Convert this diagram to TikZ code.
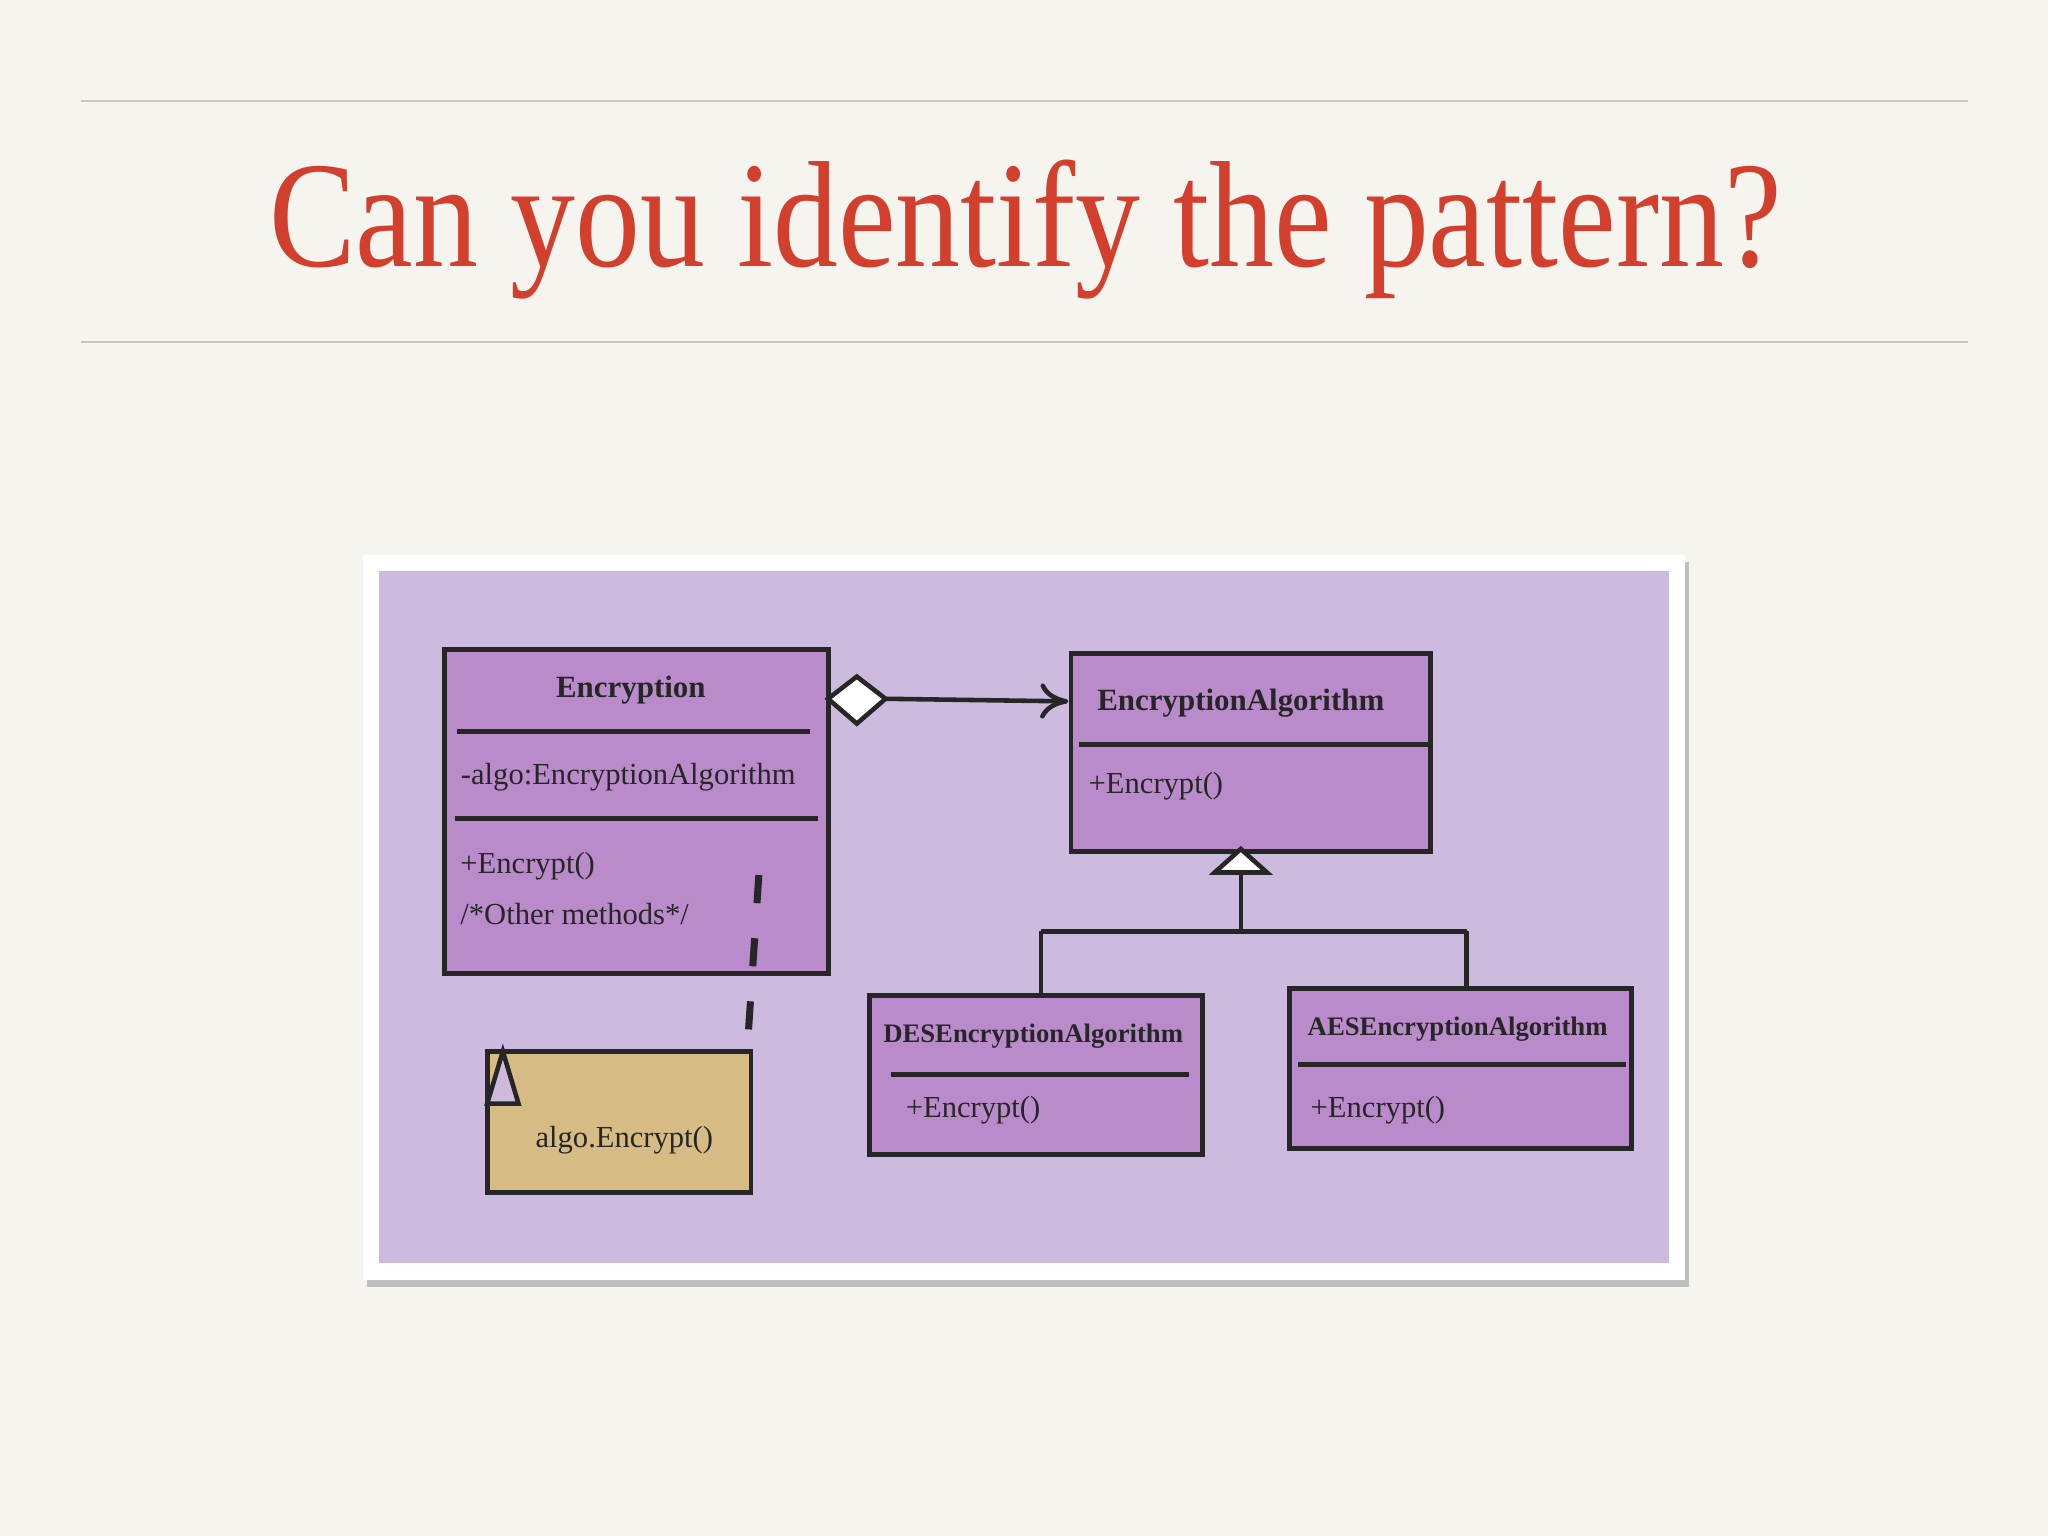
\documentclass[tikz,border=0pt]{standalone}
\usepackage{fontspec}
\usetikzlibrary{arrows.meta}
\newfontfamily\hand{Liberation Serif}
\definecolor{bg}{HTML}{F6F4EE}
\definecolor{titlered}{HTML}{D23F2C}
\definecolor{rulegray}{HTML}{C8C6C0}
\definecolor{lav}{HTML}{CDBBDF}
\definecolor{boxp}{HTML}{B98BCB}
\definecolor{notef}{HTML}{D6BC84}
\tikzset{
  umlbox/.style={draw=black!85, line width=1.4pt, fill=boxp},
  sep/.style={draw=black!85, line width=1.4pt},
  conn/.style={draw=black!85, line width=1.3pt},
  txt/.style={font=\hand\fontsize{8.7}{10}\selectfont, inner sep=0pt, text=black!85},
  txtb/.style={font=\hand\bfseries\fontsize{8.8}{10}\selectfont, inner sep=0pt, text=black!85},
  txts/.style={font=\hand\bfseries\fontsize{7.6}{9}\selectfont, inner sep=0pt, text=black!85}
}
\begin{document}
\begin{tikzpicture}[x=0.01306cm,y=-0.01306cm]
\useasboundingbox (0,0) rectangle (1568,1176);
\fill[bg] (0,0) rectangle (1568,1176);
\draw[rulegray, line width=0.6pt] (62,77) -- (1507,77);
\draw[rulegray, line width=0.6pt] (62,262) -- (1507,262);
\node[font=\hand\fontsize{41}{46}\selectfont, text=titlered, inner sep=0pt] (title) at (785,176) {\scalebox{0.9}[1.05]{Can you identify the pattern?}};
% photo
\fill[black!25] (281,430) rectangle (1293,985);
\fill[white] (278,425) rectangle (1290,980);
\fill[lav] (290,437) rectangle (1278,967);
% Encryption
\path[umlbox] (340,497) rectangle (634,745);
\draw[sep] (350,560) -- (620,560);
\draw[sep] (348,627) -- (626,627);
\node[txtb] (encT) at (483,528) {Encryption};
\node[txt] (encA) at (481,595) {-algo:EncryptionAlgorithm};
\node[txt, anchor=west] (encM1) at (352,663) {+Encrypt()};
\node[txt, anchor=west] (encM2) at (352,700) {/*Other methods*/};
% EncryptionAlgorithm
\path[umlbox] (820,500) rectangle (1095,652);
\draw[sep] (826,570) -- (1093,570);
\node[txtb] (eaT) at (950,538) {EncryptionAlgorithm};
\node[txt, anchor=west] (eaM) at (833,602) {+Encrypt()};
% DES
\path[umlbox] (666,762) rectangle (921,884);
\draw[sep] (682,823) -- (910,823);
\node[txts] (desT) at (791,793) {DESEncryptionAlgorithm};
\node[txt, anchor=west] (desM) at (693,850) {+Encrypt()};
% AES
\path[umlbox] (987,757) rectangle (1249,879);
\draw[sep] (994,815) -- (1245,815);
\node[txts] (aesT) at (1116,788) {AESEncryptionAlgorithm};
\node[txt, anchor=west] (aesM) at (1003,850) {+Encrypt()};
% aggregation
\coordinate (d1) at (634,535);
\coordinate (d2) at (656,518);
\coordinate (d3) at (678,535);
\coordinate (d4) at (656,554);
\coordinate (aEnd) at (818,537);
\draw[conn, fill=white] (d1) -- (d2) -- (d3) -- (d4) -- cycle;
\draw[conn, -{To[length=8pt,width=10pt]}] (d3) -- (aEnd);
% inheritance
\coordinate (tTip) at (950,650);
\coordinate (tL) at (930,668);
\coordinate (tR) at (970,668);
\coordinate (tB) at (950,668);
\coordinate (j) at (950,713);
\coordinate (jl) at (797,713);
\coordinate (jr) at (1123,713);
\coordinate (dl) at (797,762);
\coordinate (dr) at (1123,757);
\draw[conn, fill=white] (tTip) -- (tL) -- (tR) -- cycle;
\draw[conn] (tB) -- (j);
\draw[conn] (jl) -- (jr);
\draw[conn] (jl) -- (dl);
\draw[conn] (jr) -- (dr);
% note
\path[draw=black!85, line width=1.4pt, fill=notef] (373,805) rectangle (575,913);
\draw[conn, fill=lav] (373,845) -- (385,805) -- (397,845) -- cycle;
\node[txt] (noteT) at (478,873) {algo.Encrypt()};
\coordinate (n1) at (581,670);
\coordinate (n2) at (572,805);
\draw[conn, dash pattern=on 8pt off 10pt, line width=2pt] (n1) -- (n2);
\end{tikzpicture}
\end{document}
